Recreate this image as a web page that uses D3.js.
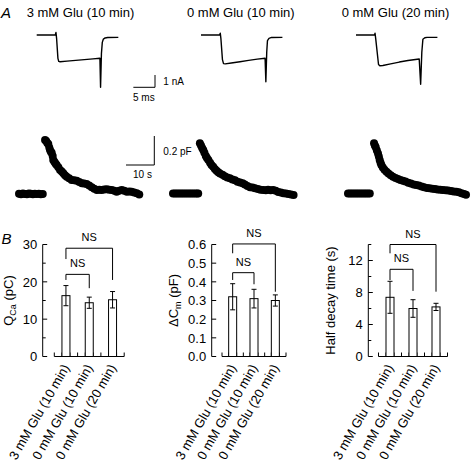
<!DOCTYPE html>
<html><head><meta charset="utf-8">
<script src="https://cdn.jsdelivr.net/npm/d3@7"></script>
<style>
body{margin:0;background:#fff}
svg{display:block}
text{font-family:"Liberation Sans",Arial,Helvetica,sans-serif;fill:#000}
</style>
</head><body>
<svg id="c" width="475" height="462"></svg>
<script>
// ---------------- DATA ----------------
const conditions = ["3 mM Glu (10 min)", "0 mM Glu (10 min)", "0 mM Glu (20 min)"];

// Panel A, top: membrane current [time ms, current nA]
const current1 = [[0,0],[4.3,0],[4.45,0.2],[4.6,-0.3],[4.9,-1.9],[5.1,-2.15],[5.4,-2.18],[7,-2.12],[9,-2.06],[11,-2.0],[13,-1.94],[14.6,-1.89],[14.75,-4.25],[14.95,-1.5],[15.15,-0.6],[15.4,-0.33],[15.8,-0.24],[16.4,-0.2],[18.85,-0.19]];
const current2 = [[0,0],[4.3,0],[4.45,0.15],[4.6,-0.3],[4.95,-2.0],[5.2,-2.33],[5.6,-2.35],[7,-2.28],[9,-2.17],[11,-2.06],[13,-1.96],[14.8,-1.89],[14.98,-3.8],[15.18,-1.4],[15.35,-0.45],[15.7,-0.27],[16.3,-0.2],[18.8,-0.19]];
const current3 = [[0,0],[4.3,0],[4.4,0.14],[4.55,-0.3],[5.2,-2.4],[5.5,-2.5],[6.2,-2.48],[8,-2.35],[10,-2.2],[12,-2.07],[14.6,-1.95],[14.93,-4.0],[15.2,-1.4],[15.45,-0.35],[15.9,-0.22],[16.4,-0.19],[18.8,-0.19]];

// Panel A, bottom: capacitance [time s, delta Cm pF]
const capacitance1 = [[0,0.002],[0.7,-0.002],[1.4,0.003],[2.1,0],[2.8,-0.002],[3.5,0.003],[4.2,0.001],[4.9,-0.002],[5.6,0.002],[6.3,0],[7,0.002],[7.7,-0.002],[8.4,0],
 [9.2,0.372],[9.6,0.365],[10.0,0.352],[10.35,0.345],[10.7,0.32],[10.95,0.303],[11.3,0.29],[11.55,0.285],[11.9,0.262],[12.1,0.234],[12.5,0.222],[12.9,0.21],[13.3,0.2],[13.9,0.185],[14.5,0.166],[15.1,0.155],[15.65,0.143],[16.25,0.13],[16.85,0.119],[17.7,0.108],[18.6,0.097],[19.5,0.095],[20.4,0.092],[21.3,0.082],[22.2,0.074],[23.0,0.072],[23.9,0.069],[24.8,0.058],[25.7,0.046],[26.6,0.036],[27.5,0.028],[28.4,0.03],[29.2,0.028],[30.1,0.031],[31.0,0.032],[31.9,0.03],[32.8,0.028],[33.7,0.022],[34.5,0.016],[35.4,0.022],[36.3,0.028],[37.2,0.022],[38.1,0.016],[39.0,0.017],[39.8,0.016],[40.7,0.01],[41.6,0.005],[42.5,-0.003]];
const capacitance2 = [[0,0.003],[0.7,0.004],[1.4,0.004],[2.1,0.003],[2.8,0.004],[3.5,0.004],[4.2,0.003],[4.9,0.004],[5.6,0.004],[6.3,0.003],[7,0.004],[7.7,0.004],[8.4,0.003],[8.9,0.004],
 [9.5,0.35],[9.9,0.335],[10.3,0.318],[10.7,0.303],[11.1,0.285],[11.6,0.262],[12.0,0.248],[12.5,0.234],[13.1,0.215],[13.6,0.2],[14.2,0.188],[14.8,0.172],[15.4,0.16],[16.0,0.15],[16.6,0.142],[17.5,0.132],[18.3,0.122],[19.2,0.114],[20.1,0.108],[21.0,0.1],[21.9,0.094],[22.8,0.084],[23.7,0.079],[24.6,0.074],[25.4,0.066],[26.3,0.056],[27.2,0.046],[28.1,0.044],[29.0,0.04],[30.0,0.034],[30.9,0.03],[31.9,0.028],[32.8,0.026],[33.6,0.03],[34.5,0.026],[35.4,0.028],[36.3,0.022],[37.2,0.014],[38.1,0.01],[39.0,0.005],[39.9,0.004],[40.8,0.0],[41.7,-0.004],[42.6,-0.007]];
const capacitance3 = [[0,0.003],[0.7,0.004],[1.4,0.004],[2.1,0.003],[2.8,0.004],[3.5,0.004],[4.2,0.003],[4.9,0.004],[5.6,0.004],[6.3,0.003],[7,0.004],[7.7,0.004],
 [9.2,0.35],[9.5,0.335],[9.8,0.322],[10.2,0.3],[10.6,0.28],[10.9,0.258],[11.2,0.235],[11.5,0.215],[11.8,0.2],[12.3,0.183],[12.9,0.168],[13.6,0.154],[14.3,0.142],[15.1,0.13],[15.9,0.119],[16.8,0.11],[17.7,0.103],[18.5,0.097],[19.4,0.092],[20.3,0.086],[21.3,0.078],[22.2,0.072],[23.2,0.066],[24.1,0.062],[25.0,0.058],[26.0,0.052],[26.9,0.046],[27.9,0.042],[28.8,0.039],[29.8,0.036],[30.7,0.034],[31.6,0.031],[32.6,0.03],[33.5,0.028],[34.5,0.026],[35.4,0.024],[36.4,0.021],[37.3,0.018],[38.3,0.016],[39.2,0.012],[40.1,0.006],[41.0,0.0],[41.7,-0.005]];

// Panel B: means and error bars
const qcaMean = [16.3, 14.4, 15.2];
const qcaErr  = [2.7, 1.5, 2.2];
const dcmMean = [0.32, 0.31, 0.30];
const dcmErr  = [0.07, 0.05, 0.03];
const halfMean = [7.4, 6.0, 6.2];
const halfErr  = [2.0, 1.1, 0.45];

// axis ticks
const qcaMajor = [0, 10, 20, 30], qcaMinor = [5, 15, 25];
const dcmMajor = [0, 0.1, 0.2, 0.3, 0.4, 0.5, 0.6], dcmMinor = [];
const halfMajor = [0, 4, 8, 12], halfMinor = [2, 6, 10, 14];

// significance brackets (data units): [fromIdx, toIdx, level, leftLegEnd, rightLegEnd, label]
const qcaSig  = [[0, 2, 29.0, 26.1, 20.5, "NS"], [0, 1, 22.0, 20.5, 18.3, "NS"]];
const dcmSig  = [[0, 2, 0.603, 0.553, 0.347, "NS"], [0, 1, 0.449, 0.41, 0.387, "NS"]];
const halfSig = [[0, 2, 14.0, 12.9, 8.1, "NS"], [0, 1, 10.9, 9.56, 8.2, "NS"]];

// ---------------- DRAW ----------------
const svg = d3.select("#c");
const FONT = 13;

// Panel labels
svg.append("text").attr("x", 1).attr("y", 17.5).attr("font-size", 15).attr("font-style", "italic").text("A");
svg.append("text").attr("x", 1.5).attr("y", 244).attr("font-size", 15).attr("font-style", "italic").text("B");

// Titles
const titleX = [26.7, 187, 341.7];
conditions.forEach((c, i) => {
  svg.append("text").attr("x", titleX[i]).attr("y", 16.5).attr("font-size", FONT).text(c);
});

// Current traces
const curTraces = [current1, current2, current3];
const curX0 = [36.7, 201, 356];
const msPx = 4.33, nAPx = 12.3, curBase = 35;
const yCur = d3.scaleLinear().domain([0, -1]).range([curBase, curBase + nAPx]);
curTraces.forEach((tr, i) => {
  const x = d3.scaleLinear().domain([0, 1]).range([curX0[i], curX0[i] + msPx]);
  svg.append("path").datum(tr)
    .attr("d", d3.line().x(d => x(d[0])).y(d => yCur(d[1])))
    .attr("fill", "none").attr("stroke", "#000").attr("stroke-width", 1.4)
    .attr("stroke-linejoin", "round");
});
// current scale bar
{
  const bx = 155, by = 87.3;
  const xs = d3.scaleLinear().domain([0, 1]).range([0, msPx]);
  const g = svg.append("g").attr("stroke", "#000").attr("stroke-width", 1).attr("fill", "none");
  g.append("path").attr("d", `M${bx - xs(5)},${by}H${bx}V${by - (yCur(-1) - yCur(0))}`);
  svg.append("text").attr("x", 163.3).attr("y", 85).attr("font-size", 10).text("1 nA");
  svg.append("text").attr("x", 133).attr("y", 100.7).attr("font-size", 10).text("5 ms");
}

// Capacitance traces
const capTraces = [capacitance1, capacitance2, capacitance3];
const capX0 = [19, 173, 348];
const sPx = 2.83, pFPx = 145, capBase = 194;
const yCap = d3.scaleLinear().domain([0, 1]).range([capBase, capBase - pFPx]);
capTraces.forEach((tr, i) => {
  const x = d3.scaleLinear().domain([0, 1]).range([capX0[i], capX0[i] + sPx]);
  svg.append("g").selectAll("circle").data(tr).join("circle")
    .attr("cx", d => x(d[0])).attr("cy", d => yCap(d[1])).attr("r", 4).attr("fill", "#000");
});
{
  const bx = 154.3, by = 165;
  const g = svg.append("g").attr("stroke", "#000").attr("stroke-width", 1).attr("fill", "none");
  g.append("path").attr("d", `M${bx - 10 * sPx},${by}H${bx}V${by - 0.2 * pFPx}`);
  svg.append("text").attr("x", 163.3).attr("y", 154.5).attr("font-size", 10).text("0.2 pF");
  svg.append("text").attr("x", 133).attr("y", 178.3).attr("font-size", 10).text("10 s");
}

// Bar charts
const yTop = 244.5, yBot = 356.5;
const charts = [
  {axisX: 42.7, band: [54.3, 124.2], mean: qcaMean, err: qcaErr, max: 30, major: qcaMajor, minor: qcaMinor, fmt: d3.format("d"), sig: qcaSig, labelX: 13, label: ["Q", "Ca", " (pC)"]},
  {axisX: 211.7, band: [222, 286], mean: dcmMean, err: dcmErr, max: 0.6, major: dcmMajor, minor: dcmMinor, fmt: d3.format(".1f"), sig: dcmSig, labelX: 178, label: ["\u0394C", "m", " (pF)"]},
  {axisX: 368.3, band: [378.5, 447.5], mean: halfMean, err: halfErr, max: 14, major: halfMajor, minor: halfMinor, fmt: d3.format("d"), sig: halfSig, labelX: 335, label: ["Half decay time (s)"]}
];

charts.forEach(ch => {
  const y = d3.scaleLinear().domain([0, ch.max]).range([yBot, yTop]);
  const x = d3.scaleBand().domain(conditions).range(ch.band).paddingInner(0).paddingOuter(0);
  const bw = 8;
  const g = svg.append("g");
  // y axis
  g.append("line").attr("x1", ch.axisX).attr("x2", ch.axisX).attr("y1", y(0)).attr("y2", y(ch.max)).attr("stroke", "#000");
  ch.major.forEach(v => {
    g.append("line").attr("x1", ch.axisX).attr("x2", ch.axisX + 4.5).attr("y1", y(v)).attr("y2", y(v)).attr("stroke", "#000");
    g.append("text").attr("x", ch.axisX - 5.5).attr("y", y(v)).attr("dy", "0.36em").attr("text-anchor", "end").attr("font-size", FONT).text(ch.fmt(v));
  });
  ch.minor.forEach(v => {
    g.append("line").attr("x1", ch.axisX).attr("x2", ch.axisX + 3).attr("y1", y(v)).attr("y2", y(v)).attr("stroke", "#000");
  });
  // y label
  const cy = (yTop + yBot) / 2;
  const t = g.append("text").attr("transform", `translate(${ch.labelX},${cy}) rotate(-90)`).attr("text-anchor", "middle").attr("font-size", FONT);
  if (ch.label.length === 3) {
    t.append("tspan").text(ch.label[0]);
    t.append("tspan").attr("font-size", 9).attr("dy", 3).text(ch.label[1]);
    t.append("tspan").attr("dy", -3).text(ch.label[2]);
  } else t.text(ch.label[0]);
  // x axis
  const [b0, b1] = ch.band;
  g.append("line").attr("x1", b0).attr("x2", b1).attr("y1", yBot).attr("y2", yBot).attr("stroke", "#000");
  const tks = [b0];
  conditions.forEach(c => {
    const cx = x(c) + x.bandwidth() / 2;
    tks.push(cx - bw / 2, cx + bw / 2, x(c) + x.bandwidth());
  });
  tks.forEach(v => g.append("line").attr("x1", v).attr("x2", v).attr("y1", yBot).attr("y2", yBot - 4).attr("stroke", "#000"));
  // bars
  conditions.forEach((c, i) => {
    const cx = x(c) + x.bandwidth() / 2;
    g.append("rect").attr("x", cx - bw / 2).attr("y", y(ch.mean[i])).attr("width", bw).attr("height", yBot - y(ch.mean[i]))
      .attr("fill", "#fff").attr("stroke", "#000");
    const hi = y(ch.mean[i] + ch.err[i]), lo = y(ch.mean[i] - ch.err[i]);
    g.append("path").attr("d", `M${cx},${hi}V${lo}M${cx - 2.5},${hi}H${cx + 2.5}M${cx - 2.5},${lo}H${cx + 2.5}`)
      .attr("stroke", "#000").attr("fill", "none");
    g.append("text").attr("transform", `translate(${cx + 4},${yBot + 11}) rotate(-60)`).attr("text-anchor", "end")
      .attr("font-size", FONT).text(c);
  });
  // significance brackets
  ch.sig.forEach(s => {
    const xa = x(conditions[s[0]]) + x.bandwidth() / 2, xb = x(conditions[s[1]]) + x.bandwidth() / 2;
    g.append("path").attr("d", `M${xa},${y(s[3])}V${y(s[2])}H${xb}V${y(s[4])}`).attr("stroke", "#000").attr("fill", "none");
    g.append("text").attr("x", (xa + xb) / 2).attr("y", y(s[2]) - 7).attr("text-anchor", "middle").attr("font-size", 11).text(s[5]);
  });
});
</script>
</body></html>
